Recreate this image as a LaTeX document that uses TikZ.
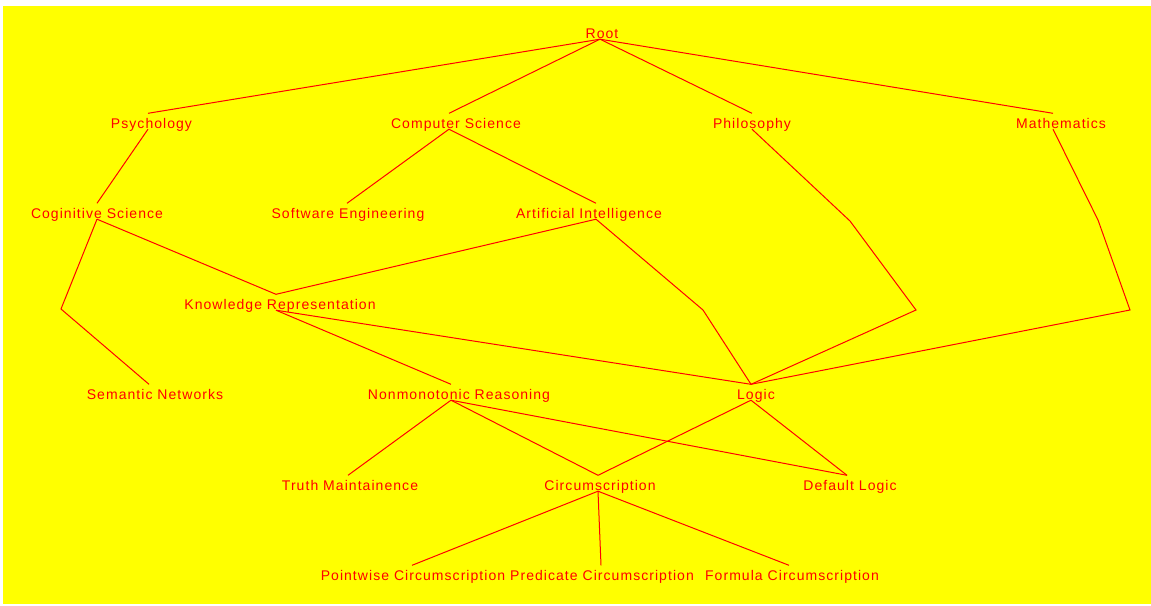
\documentclass[tikz,border=0pt]{standalone}
\usepackage{fontspec}
\setmainfont{Liberation Sans}
\newfontfamily\lblfont[LetterSpace=7.5]{Liberation Sans}
\definecolor{bgyellow}{RGB}{255,255,0}
\definecolor{lnred}{RGB}{255,0,0}
\begin{document}
\begin{tikzpicture}[x=1pt,y=-1pt,
  lbl/.style={font=\lblfont\fontsize{14}{16}\selectfont, text=lnred, inner sep=0pt,
              text height=14.5pt, text depth=1pt, anchor=base},
  link/.style={draw=lnred, line width=1pt}]
\useasboundingbox (0,0) rectangle (1151,605);
\fill[white] (0,0) rectangle (1151,605);
\fill[bgyellow] (3,6) rectangle (1151,604);

% level 0
\node[lbl] (root) at (600,38) {\hspace*{4pt}Root};
% level 1
\node[lbl] (psy) at (148,128) {\hspace*{7pt}Psychology};
\node[lbl] (cs) at (449,128) {\hspace*{14pt}Computer Science};
\node[lbl] (phil) at (752,128) {Philosophy};
\node[lbl] (math) at (1053,128) {\hspace*{16pt}Mathematics};
% level 2
\node[lbl] (cog) at (97,218) {Coginitive Science};
\node[lbl] (se) at (347,218) {\hspace*{2pt}Software Engineering};
\node[lbl] (ai) at (596,218) {Artificial Intelligence\hspace*{14pt}};
% level 3
\node[lbl] (kr) at (276,309) {\hspace*{8pt}Knowledge Representation};
% level 4
\node[lbl] (sem) at (149,399) {\hspace*{12pt}Semantic Networks};
\node[lbl] (nmr) at (451,399) {\hspace*{16pt}Nonmonotonic Reasoning};
\node[lbl] (logic) at (751,399) {\hspace*{10pt}Logic};
% level 5
\node[lbl] (tm) at (348,490) {\hspace*{4pt}Truth Maintainence};
\node[lbl] (circ) at (598,490) {\hspace*{4pt}Circumscription};
\node[lbl] (dl) at (847,490) {\hspace*{6pt}Default Logic};
% level 6
\node[lbl] (pw) at (412,580) {\hspace*{2pt}Pointwise Circumscription};
\node[lbl] (pred) at (601,580) {\hspace*{2pt}Predicate Circumscription};
\node[lbl] (form) at (789,580) {\hspace*{6pt}Formula Circumscription};

% bend points of long edges
\coordinate (ph1) at (850,221);
\coordinate (ph2) at (916,310);
\coordinate (ma1) at (1098,220);
\coordinate (ma2) at (1130,310);
\coordinate (ai1) at (703,310);
\coordinate (cg1) at (61,309);

\draw[link] (root.south) -- (psy.north);
\draw[link] (root.south) -- (cs.north);
\draw[link] (root.south) -- (phil.north);
\draw[link] (root.south) -- (math.north);
\draw[link] (psy.south) -- (cog.north);
\draw[link] (cs.south) -- (se.north);
\draw[link] (cs.south) -- (ai.north);
\draw[link] (phil.south) -- (ph1) -- (ph2) -- (logic.north);
\draw[link] (math.south) -- (ma1) -- (ma2) -- (logic.north);
\draw[link] (cog.south) -- (kr.north);
\draw[link] (cog.south) -- (cg1) -- (sem.north);
\draw[link] (ai.south) -- (kr.north);
\draw[link] (ai.south) -- (ai1) -- (logic.north);
\draw[link] (kr.south) -- (nmr.north);
\draw[link] (kr.south) -- (logic.north);
\draw[link] (nmr.south) -- (tm.north);
\draw[link] (nmr.south) -- (circ.north);
\draw[link] (nmr.south) -- (dl.north);
\draw[link] (logic.south) -- (circ.north);
\draw[link] (logic.south) -- (dl.north);
\draw[link] (circ.south) -- (pw.north);
\draw[link] (circ.south) -- (pred.north);
\draw[link] (circ.south) -- (form.north);
\end{tikzpicture}
\end{document}
